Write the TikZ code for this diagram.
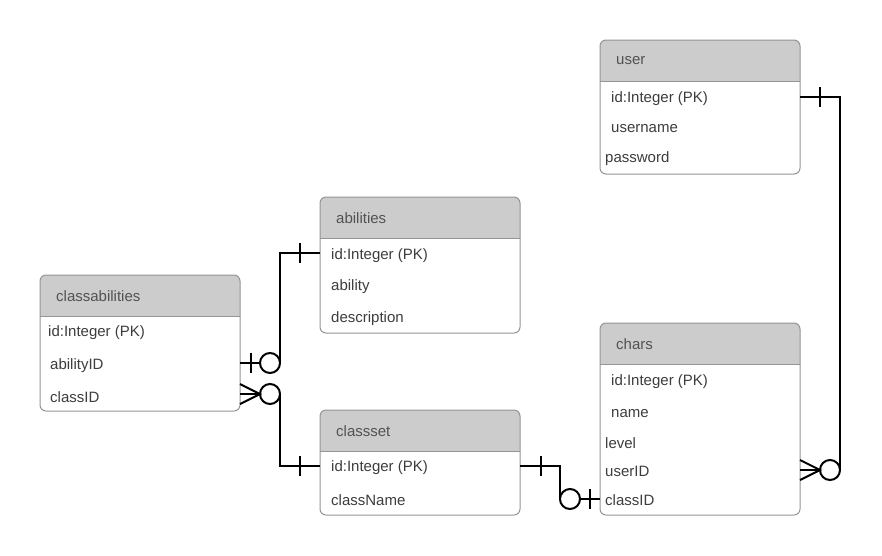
\documentclass[tikz,border=0pt]{standalone}
\usepackage{fontspec}
\setmainfont{Liberation Sans}
\begin{document}
\begin{tikzpicture}[x=1pt,y=-1pt,
  boxline/.style={draw=black!42,line width=1pt},
  headfill/.style={fill=black!20},
  headtext/.style={anchor=west,inner sep=0pt,text=black!68,font=\fontsize{15}{18}\selectfont},
  rowtext/.style={anchor=west,inner sep=0pt,text=black!76,font=\fontsize{15}{18}\selectfont},
  rel/.style={draw=black,line width=2pt},
  relthin/.style={draw=black,line width=1.6pt},
]
\useasboundingbox[fill=white] (0,0) rectangle (882,555);

% entity frame: #1 name, #2 left, #3 top, #4 bottom, #5 title
\newcommand\erbox[5]{%
  \fill[headfill] (#2,#3+41) {[rounded corners=6] -- (#2,#3) -- (#2+200,#3)} -- (#2+200,#3+41) -- cycle;
  \draw[boxline] (#2,#3+41) -- (#2+200,#3+41);
  \draw[boxline,rounded corners=6] (#2,#3) rectangle (#2+200,#4);
  \node[headtext] (#1-title) at (#2+16,#3+21) {#5};%
}

% frames
\erbox{user}{600}{40}{174}{user}
\erbox{abilities}{320}{197}{333}{abilities}
\erbox{classabilities}{40}{275}{411}{classabilities}
\erbox{classset}{320}{410}{515}{classset}
\erbox{chars}{600}{323}{515}{chars}

% user
\node[rowtext] (user-pk) at (611,99) {id:Integer (PK)};
\node[rowtext] (user-username) at (611,129) {username};
\node[rowtext] (user-password) at (605,159) {password};

% abilities
\node[rowtext] (abilities-pk) at (331,256) {id:Integer (PK)};
\node[rowtext] (abilities-ability) at (331,287) {ability};
\node[rowtext] (abilities-description) at (331,319) {description};

% classabilities
\node[rowtext] (ca-pk) at (48,333) {id:Integer (PK)};
\node[rowtext] (ca-abilityID) at (50,366) {abilityID};
\node[rowtext] (ca-classID) at (50,397) {classID};

% classset
\node[rowtext] (classset-pk) at (331,468) {id:Integer (PK)};
\node[rowtext] (classset-className) at (331,500) {className};

% chars
\node[rowtext] (chars-pk) at (611,382) {id:Integer (PK)};
\node[rowtext] (chars-name) at (611,414) {name};
\node[rowtext] (chars-level) at (605,443) {level};
\node[rowtext] (chars-userID) at (605,471) {userID};
\node[rowtext] (chars-classID) at (605,500) {classID};

% connection ports on the table edges
\coordinate (p-user-pk) at (800,97);
\coordinate (p-chars-userID) at (800,470);
\coordinate (p-abilities-pk) at (320,253);
\coordinate (p-ca-abilityID) at (240,363);
\coordinate (p-ca-classID) at (240,394);
\coordinate (p-classset-pk-w) at (320,466);
\coordinate (p-classset-pk-e) at (520,466);
\coordinate (p-chars-classID) at (600,499);

% optional-end circles
\coordinate (o-user) at (830,470);
\coordinate (o-ability) at (270,363);
\coordinate (o-class) at (270,394);
\coordinate (o-classset) at (570,499);

% user (one) -- chars.userID (zero or many)
\draw[rel] (p-user-pk) -| ([xshift=10]o-user);
\draw[relthin] ([xshift=20]p-user-pk) ++(0,-10) -- ++(0,20);
\draw[rel] (o-user) circle[radius=10];
\draw[rel] (p-chars-userID) -- ([xshift=-10]o-user);
\draw[rel] ([yshift=-10]p-chars-userID) -- ([xshift=-10]o-user) -- ([yshift=10]p-chars-userID);

% abilities (one) -- classabilities.abilityID (zero or one)
\draw[rel] (p-abilities-pk) -| ([xshift=10]o-ability);
\draw[relthin] ([xshift=-20]p-abilities-pk) ++(0,-10) -- ++(0,20);
\draw[rel] (o-ability) circle[radius=10];
\draw[rel] (p-ca-abilityID) -- ([xshift=-10]o-ability);
\draw[relthin] ([xshift=11]p-ca-abilityID) ++(0,-10) -- ++(0,20);

% classset (one) -- classabilities.classID (zero or many)
\draw[rel] (p-classset-pk-w) -| ([xshift=10]o-class);
\draw[relthin] ([xshift=-20]p-classset-pk-w) ++(0,-10) -- ++(0,20);
\draw[rel] (o-class) circle[radius=10];
\draw[rel] (p-ca-classID) -- ([xshift=-10]o-class);
\draw[rel] ([yshift=-10]p-ca-classID) -- ([xshift=-10]o-class) -- ([yshift=10]p-ca-classID);

% classset (one) -- chars.classID (zero or one)
\draw[rel] (p-classset-pk-e) -| ([xshift=-10]o-classset);
\draw[relthin] ([xshift=21]p-classset-pk-e) ++(0,-10) -- ++(0,20);
\draw[rel] (o-classset) circle[radius=10];
\draw[rel] ([xshift=10]o-classset) -- (p-chars-classID);
\draw[relthin] ([xshift=-10]p-chars-classID) ++(0,-10) -- ++(0,20);
\end{tikzpicture}
\end{document}
